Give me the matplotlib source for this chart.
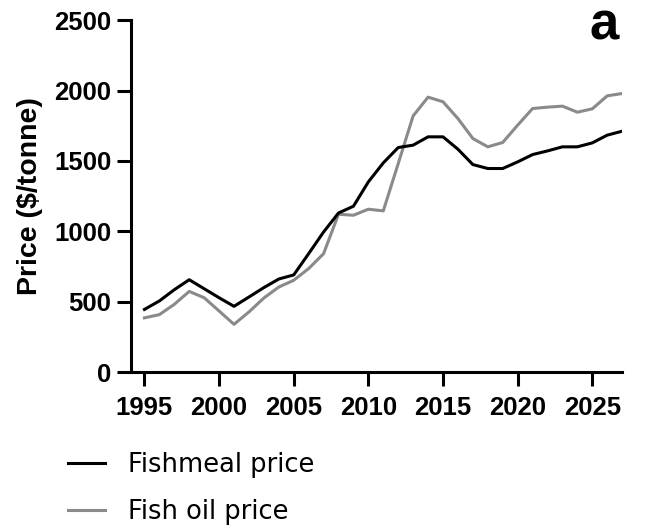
import numpy as np
import matplotlib
matplotlib.use("Agg")
import matplotlib.pyplot as plt

# data
years = np.arange(1995, 2028)
fishmeal = [445, 505, 585, 656, 592, 528, 467, 533, 600, 661, 690, 841,
            995, 1130, 1178, 1351, 1486, 1595, 1612, 1671, 1671, 1583,
            1474, 1446, 1446, 1493, 1545, 1571, 1600, 1600, 1628, 1683, 1711]
fish_oil = [385, 408, 481, 573, 528, 434, 339, 427, 526, 604, 652, 735,
            841, 1121, 1114, 1157, 1145, 1481, 1820, 1953, 1920, 1801,
            1659, 1600, 1631, 1754, 1872, 1882, 1889, 1846, 1870, 1962, 1979]
xticks = [1995, 2000, 2005, 2010, 2015, 2020, 2025]
yticks = [0, 500, 1000, 1500, 2000, 2500]

bold = {"family": "Liberation Sans", "weight": "bold"}

fig = plt.figure(figsize=(6.54, 5.30), dpi=100)
ax = fig.add_axes([0.2003, 0.298, 0.751, 0.664])

ax.plot(years, fishmeal, color="black", lw=2.2, label="Fishmeal price", zorder=3)
ax.plot(years, fish_oil, color="#8a8a8a", lw=2.2, label="Fish oil price", zorder=2)

ax.set_xlim(1994.1, 2027)
ax.set_ylim(0, 2500)
ax.set_xticks(xticks)
ax.set_yticks(yticks)
for side in ["top", "right"]:
    ax.spines[side].set_visible(False)
for side in ["left", "bottom"]:
    ax.spines[side].set_linewidth(2.2)
ax.tick_params(width=2.2, length=10, direction="out")
ax.tick_params(axis="x", pad=7)
ax.tick_params(axis="y", pad=4)
for lab in ax.get_xticklabels() + ax.get_yticklabels():
    lab.set_fontproperties(bold)
    lab.set_fontsize(18.5)

ax.set_ylabel("Price ($/tonne)", fontsize=20.5, labelpad=8, **bold)
fig.text(0.923, 0.925, "a", fontsize=38, ha="center", va="baseline", **bold)

fig.legend(loc="upper left", bbox_to_anchor=(0.104, 0.148), frameon=False,
           prop={"family": "DejaVu Sans", "size": 18.5},
           handlelength=1.45, handletextpad=0.9, labelspacing=0.85,
           borderaxespad=0, borderpad=0)

fig.savefig("out.png", dpi=100)
